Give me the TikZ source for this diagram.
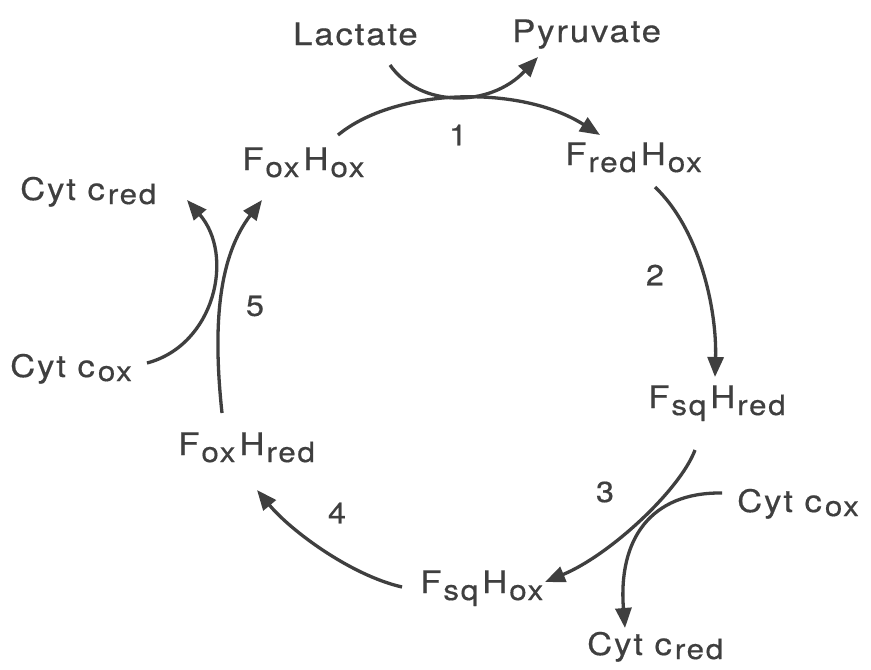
\documentclass[tikz,border=0pt]{standalone}
\usepackage{fontspec}
\setmainfont{TeX Gyre Heros}[FakeStretch=1.12, LetterSpace=6, FakeBold=0.5]
\usetikzlibrary{arrows.meta}
\definecolor{ink}{HTML}{3F3F3F}
\newcommand\mysub[1]{\hspace{2pt}\raisebox{-7pt}{\fontsize{28}{28}\selectfont #1}\hspace{4pt}}
\newcommand\csub[1]{\hspace{3pt}\raisebox{-4pt}{\fontsize{28}{28}\selectfont #1}}
\begin{document}
\begin{tikzpicture}[x=1pt,y=-1pt,
  lab/.style={inner sep=0pt, anchor=base west, text=ink, font=\fontsize{31}{31}\selectfont},
  num/.style={inner sep=0pt, text=ink, font=\fontsize{29}{29}\selectfont},
  rx/.style={draw=ink, line width=3.3pt, -{Triangle[length=20pt,width=16pt]}}]
\useasboundingbox[fill=white] (0,0) rectangle (871,670);
% species
\node[lab] (lac) at (293,45) {Lactate};
\node[lab] (pyr) at (512,42) {Pyruvate};
\node[lab] (foxhox) at (242,170) {F\mysub{ox}H\mysub{ox}};
\node[lab] (fredhox) at (565,165) {F\mysub{red}H\mysub{ox}};
\node[lab] (fsqhred) at (648,408) {F\mysub{sq}H\mysub{red}};
\node[lab] (fsqhox) at (420,593) {F\mysub{sq}H\mysub{ox}};
\node[lab] (foxhred) at (178,455) {F\mysub{ox}H\mysub{red}};
\node[lab] (cytredA) at (20,200) {Cyt c\csub{red}};
\node[lab] (cytoxA) at (10,377) {Cyt c\csub{ox}};
\node[lab] (cytoxB) at (737,512) {Cyt c\csub{ox}};
\node[lab] (cytredB) at (587,655) {Cyt c\csub{red}};
% step numbers
\node[num] (n1) at (458,135) {1};
\node[num] (n2) at (655,275) {2};
\node[num] (n3) at (605,492) {3};
\node[num] (n4) at (337,513) {4};
\node[num] (n5) at (255,306) {5};
% connector end points
\coordinate (a1) at (338,135); \coordinate (b1) at (600,135);
\coordinate (c1) at (390,65);  \coordinate (d1) at (538,57);
\coordinate (a2) at (655,187); \coordinate (b2) at (715,377);
\coordinate (a3) at (695,450); \coordinate (b3) at (545,582);
\coordinate (c3) at (722,493); \coordinate (d3) at (625,628);
\coordinate (a4) at (402,587); \coordinate (b4) at (257,490);
\coordinate (a5) at (222,413); \coordinate (b5) at (262,200);
\coordinate (c5) at (147,363); \coordinate (d5) at (187,200);
% reaction 1
\draw[rx] (a1) .. controls (395,88) and (520,84) .. (b1);
\draw[rx] (c1) .. controls (420,108) and (490,108) .. (d1);
% reaction 2
\draw[rx] (a2) .. controls (700,230) and (717,310) .. (b2);
% reaction 3
\draw[rx] (a3) .. controls (680,490) and (610,555) .. (b3);
\draw[rx] (c3) .. controls (650,492) and (618,540) .. (d3);
% reaction 4
\draw[rx] (a4) .. controls (350,575) and (290,530) .. (b4);
% reaction 5
\draw[rx] (a5) .. controls (212,320) and (220,255) .. (b5);
\draw[rx] (c5) .. controls (215,345) and (235,255) .. (d5);
\end{tikzpicture}
\end{document}
